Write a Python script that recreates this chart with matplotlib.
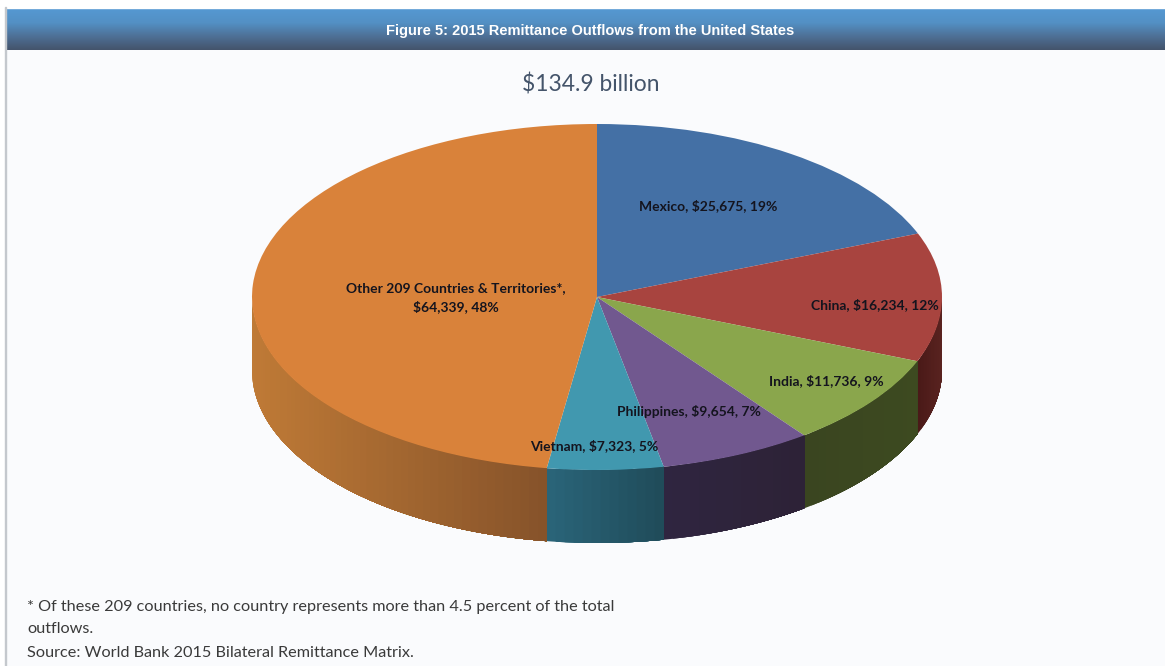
import numpy as np
import matplotlib
matplotlib.use("Agg")
import matplotlib.pyplot as plt
from matplotlib.colors import to_rgb, LinearSegmentedColormap

# Remittance outflows by destination, millions of US dollars
countries = ["Mexico", "China", "India", "Philippines", "Vietnam", "Other 209 Countries & Territories*,\n"]
outflows = [25675, 16234, 11736, 9654, 7323, 64339]
total_label = "$134.9 billion"
title_text = "Figure 5: 2015 Remittance Outflows from the United States"
footnotes = [
    "* Of these 209 countries, no country represents more than 4.5 percent of the total",
    "outflows.",
    "Source: World Bank 2015 Bilateral Remittance Matrix.",
]

W, H = 1165, 666
CX, CY, RX, RY, DEPTH = 597.0, 297.0, 345.0, 173.0, 73.0

top_colors = ["#4470A5", "#A8443F", "#8AA64C", "#71588F", "#4198AF", "#D9823A"]
# wall shade at the left and right end of each slice's visible side
wall_colors = [
    ("#2a4566", "#2a4566"),
    ("#4a1a18", "#5a2320"),
    ("#3a4520", "#3d4a20"),
    ("#2f2540", "#2d2236"),
    ("#2a6478", "#1f4a58"),
    ("#bf7a36", "#85522a"),
]

fig = plt.figure(figsize=(W / 100, H / 100), dpi=100, facecolor="#FAFBFD")


def px(x, y):
    return x / W, 1 - y / H


# Page edge: white strip above and grey rule on the left
fig.patches.append(plt.Rectangle((0, 1 - 8 / H), 1, 8 / H, transform=fig.transFigure, color="#FFFFFF"))
fig.patches.append(plt.Rectangle((0, 0), 5 / W, 1, transform=fig.transFigure, color="#FFFFFF"))
fig.patches.append(plt.Rectangle((4.5 / W, 0), 1.5 / W, 1 - 7 / H, transform=fig.transFigure, color="#C4C8CD"))

# Header band with vertical gradient
band = fig.add_axes([6 / W, 1 - 50 / H, (W - 6) / W, 41 / H])
band.axis("off")
band_cmap = LinearSegmentedColormap.from_list("band", ["#5598D2", "#5390C4", "#4E7096", "#44546C"])
band.imshow(np.linspace(0, 1, 64)[:, None], aspect="auto", cmap=band_cmap)

# Pie axes spans the figure; one data unit equals the ellipse radius on each axis
ax = fig.add_axes([0, 0, 1, 1])
ax.patch.set_alpha(0)
ax.set_axis_off()

fractions = np.array(outflows) / sum(outflows)
edges = np.concatenate([[0], np.cumsum(fractions)]) * 2 * np.pi  # clockwise from 12 o'clock
unit_depth = DEPTH / RY

for i in range(len(outflows)):
    start, end = max(edges[i], np.pi / 2), min(edges[i + 1], 3 * np.pi / 2)
    if end <= start:
        continue
    left, right = map(np.array, map(to_rgb, wall_colors[i]))
    x_left, x_right = np.sin(end), np.sin(start)
    steps = max(2, int((end - start) * 40))
    bounds = np.linspace(end, start, steps + 1)  # walk from the left end to the right end
    for k, a in enumerate(bounds[:-1]):
        # each strip runs on to the slice's right end; later strips paint over it
        th = np.linspace(a, start, 80)
        xs, ys = np.sin(th), np.cos(th)
        t = (np.sin(a) - x_left) / max(x_right - x_left, 1e-6)
        ax.fill(np.r_[xs, xs[::-1]], np.r_[ys, ys[::-1] - unit_depth],
                color=left + (right - left) * t, lw=0, zorder=1)

ax.pie(outflows, colors=top_colors, startangle=90, counterclock=False, radius=1,
       wedgeprops={"linewidth": 0, "zorder": 2})
ax.set_aspect("auto")
ax.set_xlim((0 - CX) / RX, (W - CX) / RX)
ax.set_ylim((CY - H) / RY, CY / RY)

# Slice captions
label_font = ["Lato", "DejaVu Sans"]
label_anchor = [(708, 206), (875, 305), (826, 381), (689, 412), (594, 446), (456, 297.5)]
for name, value, frac, (x, y) in zip(countries, outflows, fractions, label_anchor):
    sep = "" if name.endswith("\n") else ", "
    caption = f"{name}{sep}${value:,}, {frac * 100:.0f}%"
    fx, fy = px(x, y)
    fig.text(fx, fy, caption, ha="center", va="center", fontsize=10, fontweight="bold",
             family=label_font, color="#14141E", linespacing=1.5, zorder=5)

fx, fy = px(590.5, 31)
fig.text(fx, fy, title_text, ha="center", va="center", fontsize=10.5, fontweight="bold",
         family="Liberation Sans", color="#FFFFFF")
fx, fy = px(591, 85)
fig.text(fx, fy, total_label, ha="center", va="center", fontsize=16.4, family=label_font, color="#44546A")

for line, y in zip(footnotes, (607, 629, 653)):
    fx, fy = px(27, y)
    fig.text(fx, fy, line, ha="left", va="center", fontsize=11.7, family=label_font, color="#3A3A3A")

fig.savefig("out.png", dpi=100, facecolor=fig.get_facecolor())
